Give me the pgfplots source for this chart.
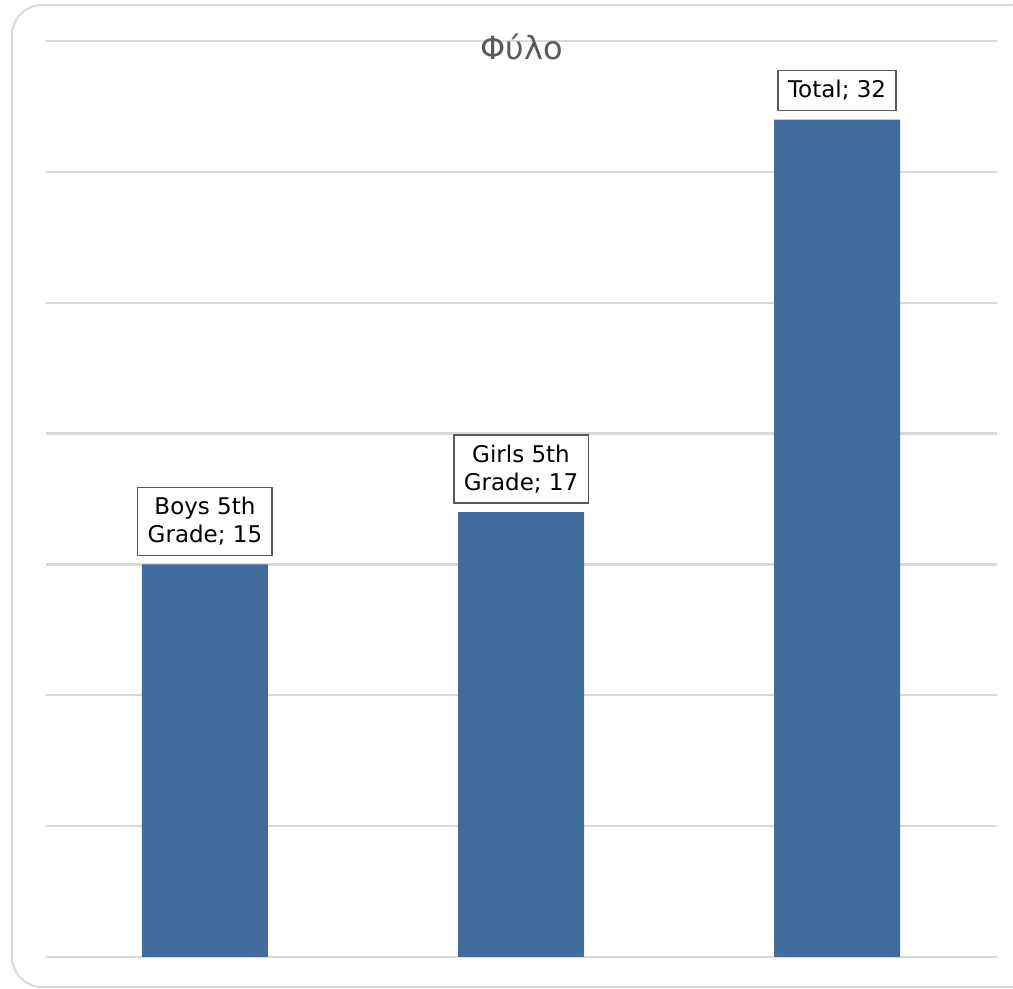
\documentclass[border=0pt]{standalone}
\usepackage{pgfplots}
\pgfplotsset{compat=1.18}
\usepackage{fontspec}
\setmainfont{DejaVu Sans}
\definecolor{barblue}{RGB}{66,108,156}
\definecolor{gridgray}{RGB}{217,217,217}
\definecolor{titlegray}{RGB}{89,89,89}
\definecolor{boxgray}{RGB}{89,89,89}
\newcommand{\lblA}{Boys 5th\\Grade; 15}
\newcommand{\lblB}{Girls 5th\\Grade; 17}
\newcommand{\lblC}{Total; 32}
\begin{document}
\begin{tikzpicture}
\path[use as bounding box] (0,0) rectangle (506.5pt,494.5pt);
\begin{scope}
\clip (0,0) rectangle (506.5pt,494.5pt);
\draw[gridgray, line width=1pt, rounded corners=15pt] (6pt,1pt) rectangle (520pt,492pt);
\end{scope}
\begin{axis}[
  at={(23pt,16pt)}, anchor=south west,
  scale only axis, width=475.5pt, height=458pt,
  xmin=-0.503, xmax=2.506, ymin=0, ymax=35,
  axis line style={draw=none},
  ytick={0,5,...,35}, yticklabels={}, xtick=\empty,
  major tick length=0pt,
  ymajorgrids, grid style={gridgray, line width=1.2pt},
  ybar, bar width=63pt, bar shift=0pt,
  point meta=explicit symbolic,
  nodes near coords={\csname lbl\pgfplotspointmeta\endcsname},
  every node near coord/.append style={draw=boxgray, line width=0.75pt, fill=white, align=center, font=\fontsize{11.5}{14}\selectfont, inner xsep=5pt, inner ysep=5pt, anchor=south, yshift=4.5pt, text=black, outer sep=0pt},
  clip=false,
]
\addplot[fill=barblue, draw=none] table[meta=lab] {
x y lab
0 15 A
1 17 B
2 32 C
};
\node[anchor=base, font=\fontsize{16}{19}\selectfont, text=titlegray, yshift=-9.5pt] at (rel axis cs:0.5,1) {Φύλο};
\end{axis}
\end{tikzpicture}
\end{document}
